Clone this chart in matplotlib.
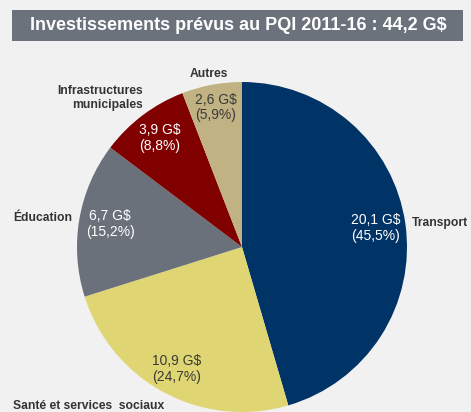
import matplotlib
matplotlib.use("Agg")
import matplotlib.pyplot as plt
import matplotlib.patches as mpatches
import numpy as np

categories = ["Transport", "Santé et services  sociaux", "Éducation",
              "Infrastructures\nmunicipales", "Autres"]
values = [20.1, 10.9, 6.7, 3.9, 2.6]
value_labels = ["20,1 G$", "10,9 G$", "6,7 G$", "3,9 G$", "2,6 G$"]
pct_labels = ["(45,5%)", "(24,7%)", "(15,2%)", "(8,8%)", "(5,9%)"]
colors = ["#003366", "#e0d573", "#6b717b", "#800000", "#c0b283"]
inner_text_colors = ["white", "#3a3a3a", "white", "white", "#3a3a3a"]
title = "Investissements prévus au PQI 2011-16 : 44,2 G$"

W, H = 471, 412
bg = "#f1f1f1"
fig = plt.figure(figsize=(W / 100, H / 100), dpi=100, facecolor=bg)
ax = fig.add_axes([0, 0, 1, 1])
ax.set_facecolor(bg)

cx, cy, R = 242, H - 247, 165
wedges, _ = ax.pie(values, colors=colors, startangle=90, counterclock=False,
                   center=(cx, cy), radius=R, frame=True,
                   wedgeprops=dict(linewidth=0))
ax.set_xlim(0, W)
ax.set_ylim(0, H)
ax.set_aspect("equal")
ax.axis("off")

font = "Liberation Sans"
rfac = [0.82, 0.84, 0.81, 0.83, 0.86]
for w, vl, pl, tc, rf in zip(wedges, value_labels, pct_labels, inner_text_colors, rfac):
    ang = np.deg2rad((w.theta1 + w.theta2) / 2)
    x = cx + rf * R * np.cos(ang)
    y = cy + rf * R * np.sin(ang)
    ax.text(x, y, vl + "\n" + pl, ha="center", va="center", color=tc,
            fontsize=10, family=font, linespacing=1.15)

lab_style = dict(fontsize=8.7, fontweight="bold", color="#333333", family=font)
ax.text(412, H - 223, categories[0], ha="left", va="center", **lab_style)
ax.text(13, H - 406, categories[1], ha="left", va="center", **lab_style)
ax.text(13, H - 218, categories[2], ha="left", va="center", **lab_style)
ax.text(143, H - 98, categories[3], ha="right", va="center", multialignment="right",
        linespacing=1.25, **lab_style)
ax.text(209, H - 74, categories[4], ha="center", va="center", **lab_style)

# title box
fig.patches.append(mpatches.Rectangle((12 / W, 1 - 41 / H), (463 - 12) / W, 31 / H,
                                      transform=fig.transFigure, facecolor="#6b727c",
                                      edgecolor="none", zorder=0))
fig.text(238 / W, 1 - 26 / H, title, ha="center", va="center", color="white",
         fontsize=13, fontweight="bold", family=font)

fig.savefig("out.png", dpi=100, facecolor=bg)
